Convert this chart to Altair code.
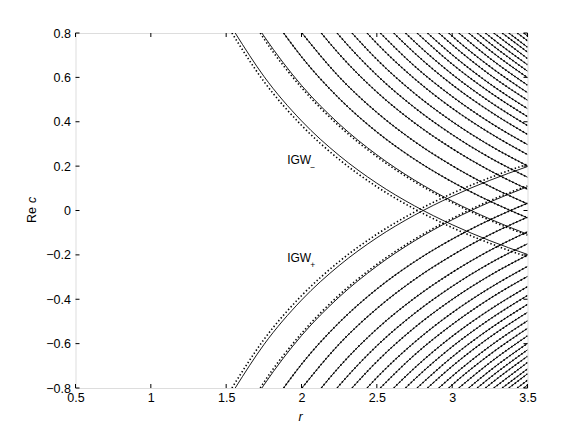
import altair as alt
import pandas as pd

# ---------------- data ----------------
# r where each mode enters the frame at Re c = +0.8 (upper family) / -0.8 (lower family)
TOP_R = [1.560, 1.737, 1.881, 2.003, 2.131, 2.236, 2.335, 2.435, 2.523, 2.612,
         2.690, 2.767, 2.836, 2.911, 2.977, 3.044, 3.110, 3.166, 3.221, 3.276,
         3.332, 3.376, 3.432, 3.475]

R_GRID = [1.75, 2.00, 2.25, 2.50, 2.75, 3.00, 3.25, 3.50]

# Re c of the upper (descending) family at R_GRID, solid curves
UPPER = [
    [0.605, 0.404, 0.248, 0.123, 0.021, -0.064, -0.136, -0.198],
    [0.787, 0.564, 0.390, 0.251, 0.137, 0.042, -0.038, -0.107],
    [None, 0.693, 0.505, 0.354, 0.231, 0.129, 0.042, -0.033],
    [None, None, 0.602, 0.442, 0.311, 0.202, 0.109, 0.030],
    [None, None, 0.705, 0.534, 0.395, 0.279, 0.180, 0.096],
    [None, None, 0.789, 0.610, 0.464, 0.342, 0.238, 0.150],
    [None, None, None, 0.681, 0.528, 0.401, 0.293, 0.201],
    [None, None, None, 0.753, 0.594, 0.461, 0.349, 0.252],
    [None, None, None, None, 0.651, 0.514, 0.397, 0.297],
    [None, None, None, None, 0.710, 0.567, 0.447, 0.343],
    [None, None, None, None, 0.761, 0.614, 0.490, 0.383],
    [None, None, None, None, None, 0.660, 0.533, 0.423],
    [None, None, None, None, None, 0.702, 0.571, 0.459],
    [None, None, None, None, None, 0.747, 0.612, 0.497],
    [None, None, None, None, None, 0.786, 0.649, 0.531],
    [None, None, None, None, None, None, 0.686, 0.565],
    [None, None, None, None, None, None, 0.722, 0.599],
    [None, None, None, None, None, None, 0.754, 0.628],
    [None, None, None, None, None, None, 0.784, 0.657],
    [None, None, None, None, None, None, None, 0.685],
    [None, None, None, None, None, None, None, 0.714],
    [None, None, None, None, None, None, None, 0.736],
    [None, None, None, None, None, None, None, 0.765],
    [None, None, None, None, None, None, None, 0.787],
]

# lower (ascending) family, solid curves
LOWER = [
    [-0.605, -0.404, -0.248, -0.123, -0.021, 0.064, 0.136, 0.198],
    [-0.787, -0.564, -0.390, -0.251, -0.137, -0.042, 0.038, 0.107],
    [None, -0.693, -0.505, -0.354, -0.231, -0.129, -0.042, 0.033],
    [None, None, -0.602, -0.442, -0.311, -0.202, -0.109, -0.030],
    [None, None, -0.705, -0.534, -0.395, -0.279, -0.180, -0.096],
    [None, None, -0.789, -0.610, -0.464, -0.342, -0.238, -0.150],
    [None, None, None, -0.681, -0.528, -0.401, -0.293, -0.201],
    [None, None, None, -0.753, -0.594, -0.461, -0.349, -0.252],
    [None, None, None, None, -0.651, -0.514, -0.397, -0.297],
    [None, None, None, None, -0.710, -0.567, -0.447, -0.343],
    [None, None, None, None, -0.761, -0.614, -0.490, -0.383],
    [None, None, None, None, None, -0.660, -0.533, -0.423],
    [None, None, None, None, None, -0.702, -0.571, -0.459],
    [None, None, None, None, None, -0.747, -0.612, -0.497],
    [None, None, None, None, None, -0.786, -0.649, -0.531],
    [None, None, None, None, None, None, -0.686, -0.565],
    [None, None, None, None, None, None, -0.722, -0.599],
    [None, None, None, None, None, None, -0.754, -0.628],
    [None, None, None, None, None, None, -0.784, -0.657],
    [None, None, None, None, None, None, None, -0.685],
    [None, None, None, None, None, None, None, -0.714],
    [None, None, None, None, None, None, None, -0.736],
    [None, None, None, None, None, None, None, -0.765],
    [None, None, None, None, None, None, None, -0.787],
]

# dotted companions that visibly separate (first two modes of each family)
DOT_TOP_R = [1.538, 1.726]
UPPER_DOT = [
    [0.582, 0.384, 0.230, 0.107, 0.007, -0.077, -0.148, -0.209],
    [0.775, 0.554, 0.381, 0.243, 0.130, 0.036, -0.044, -0.112],
]
LOWER_DOT = [
    [-0.582, -0.384, -0.230, -0.107, -0.007, 0.077, 0.148, 0.209],
    [-0.775, -0.554, -0.381, -0.243, -0.130, -0.036, 0.044, 0.112],
]

X_TICKS = [0.5, 1.0, 1.5, 2.0, 2.5, 3.0, 3.5]
Y_TICKS = [-0.8, -0.6, -0.4, -0.2, 0.0, 0.2, 0.4, 0.6, 0.8]

LABELS = ["IGW", "IGW"]
LABEL_R = [1.905, 1.905]
LABEL_C = [0.228, -0.215]
SUBS = ["\u2212", "+"]
SUB_R = [2.058, 2.058]
SUB_C = [0.197, -0.245]

# ---------------- build the table ----------------
rows = []


def add(fam, style, tops, table, edge):
    for n, (rt, vals) in enumerate(zip(tops, table)):
        key = f"{fam}-{style}-{n}"
        rows.append(dict(key=key, style=style, r=rt, c=edge, o=0))
        for i, (rg, v) in enumerate(zip(R_GRID, vals)):
            if v is not None:
                rows.append(dict(key=key, style=style, r=rg, c=v, o=i + 1))


add("up", "solid", TOP_R, UPPER, 0.8)
add("lo", "solid", TOP_R, LOWER, -0.8)
add("up", "dot", DOT_TOP_R + TOP_R[2:], UPPER_DOT + UPPER[2:], 0.8)
add("lo", "dot", DOT_TOP_R + TOP_R[2:], LOWER_DOT + LOWER[2:], -0.8)
df = pd.DataFrame(rows)

W, H = 452, 355
FONT = "Liberation Sans"
FS = 12.5

xs = alt.Scale(domain=[0.5, 3.5], nice=False, zero=False)
ys = alt.Scale(domain=[-0.8, 0.8], nice=False, zero=False)

xaxis = alt.Axis(values=X_TICKS, format=".1~f", ticks=False, domain=False, grid=False,
                 title=None, labelFont=FONT, labelFontSize=FS, labelColor="black",
                 labelPadding=3, labelFlush=False)
yaxis = alt.Axis(values=Y_TICKS, format=".1~f", ticks=False, domain=False, grid=False,
                 title=None, labelFont=FONT, labelFontSize=FS, labelColor="black",
                 labelPadding=5, labelFlush=False)

base = alt.Chart(df)
solid = base.transform_filter(alt.datum.style == "solid").mark_line(
    color="black", strokeWidth=0.9, interpolate="monotone", clip=True
).encode(
    x=alt.X("r:Q", scale=xs, axis=xaxis),
    y=alt.Y("c:Q", scale=ys, axis=yaxis),
    detail="key:N",
    order="o:Q",
)
dotted = base.transform_filter(alt.datum.style == "dot").mark_line(
    color="black", strokeWidth=1.6, strokeDash=[1.4, 2.3], interpolate="monotone", clip=True
).encode(
    x=alt.X("r:Q", scale=xs),
    y=alt.Y("c:Q", scale=ys),
    detail="key:N",
    order="o:Q",
)

# inward ticks on all four sides
xt = pd.DataFrame({"v": X_TICKS})
yt = pd.DataFrame({"v": Y_TICKS})
tick_style = dict(color="black", strokeWidth=1)
xb = alt.Chart(xt).mark_rule(**tick_style).encode(x=alt.X("v:Q", scale=xs), y=alt.value(H), y2=alt.value(H - 4))
xtop = alt.Chart(xt).mark_rule(**tick_style).encode(x=alt.X("v:Q", scale=xs), y=alt.value(0), y2=alt.value(4))
yl = alt.Chart(yt).mark_rule(**tick_style).encode(y=alt.Y("v:Q", scale=ys), x=alt.value(0), x2=alt.value(4))
yr = alt.Chart(yt).mark_rule(**tick_style).encode(y=alt.Y("v:Q", scale=ys), x=alt.value(W), x2=alt.value(W - 4))

# annotations
ann = alt.Chart(pd.DataFrame({"t": LABELS, "r": LABEL_R, "c": LABEL_C})).mark_text(
    align="left", baseline="middle", font=FONT, fontSize=12, color="black"
).encode(x=alt.X("r:Q", scale=xs), y=alt.Y("c:Q", scale=ys), text="t:N")
sub = alt.Chart(pd.DataFrame({"t": SUBS, "r": SUB_R, "c": SUB_C})).mark_text(
    align="left", baseline="middle", font=FONT, fontSize=8.5, color="black"
).encode(x=alt.X("r:Q", scale=xs), y=alt.Y("c:Q", scale=ys), text="t:N")

# axis titles ("Re" upright, "c" italic, rotated to read bottom-to-top)
yt1 = alt.Chart(pd.DataFrame({"t": ["Re"]})).mark_text(
    angle=270, align="right", baseline="middle", font=FONT, fontSize=FS, color="black"
).encode(x=alt.value(-44), y=alt.value(174), text="t:N")
yt2 = alt.Chart(pd.DataFrame({"t": ["c"]})).mark_text(
    angle=270, align="left", baseline="middle", font=FONT, fontSize=FS, fontStyle="italic", color="black"
).encode(x=alt.value(-44), y=alt.value(170), text="t:N")
xtitle = alt.Chart(pd.DataFrame({"t": ["r"]})).mark_text(
    align="center", baseline="middle", font=FONT, fontSize=FS, fontStyle="italic", color="black"
).encode(x=alt.value(W / 2 - 1), y=alt.value(H + 29), text="t:N")

chart = alt.layer(solid, dotted, xb, xtop, yl, yr, ann, sub, yt1, yt2, xtitle).properties(
    width=W, height=H,
    autosize=alt.AutoSizeParams(type="none"),
    padding={"left": 67.5, "top": 25, "right": 45, "bottom": 41},
).configure_view(stroke="black", strokeWidth=1).configure(background="white")

chart.save("out.html", embed_options={"renderer": "svg", "actions": False})
